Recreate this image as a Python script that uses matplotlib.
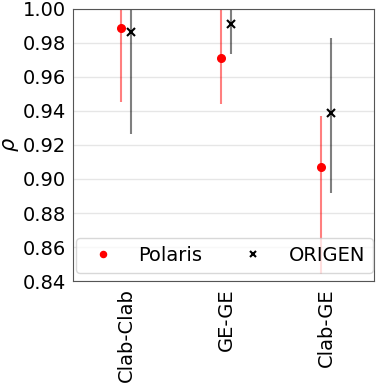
import numpy as np
import matplotlib
matplotlib.use('Agg')
import matplotlib.pyplot as plt

# data
cases = ['Clab-Clab', 'GE-GE', 'Clab-GE']
polaris = [0.989, 0.971, 0.907]
polaris_lo = [0.044, 0.027, 0.063]
polaris_hi = [0.044, 0.030, 0.030]
origen = [0.9865, 0.991, 0.939]
origen_lo = [0.060, 0.0175, 0.047]
origen_hi = [0.060, 0.0175, 0.044]

x = np.arange(len(cases))

fig = plt.figure(figsize=(3.81, 3.84), dpi=100)
ax = fig.add_axes([0.192, 0.268, 0.79, 0.709])

ax.errorbar(x - 0.05, polaris, yerr=[polaris_lo, polaris_hi], fmt='o', color='red',
            ecolor=(1, 0, 0, 0.5), elinewidth=1.5, markersize=5.5, label='Polaris')
ax.errorbar(x + 0.05, origen, yerr=[origen_lo, origen_hi], fmt='x', color='black',
            ecolor=(0, 0, 0, 0.5), elinewidth=1.5, markersize=6, mew=1.5, label='ORIGEN')

ax.set_xlim(-0.53, 2.48)
ax.set_ylim(0.84, 1.0)
ax.set_yticks(np.arange(0.84, 1.001, 0.02))
ax.set_xticks(x)
ax.set_xticklabels(cases, rotation=90, fontsize=14)
ax.tick_params(axis='y', labelsize=14)
ax.tick_params(length=0, pad=5)
ax.yaxis.set_major_formatter(matplotlib.ticker.FormatStrFormatter('%.2f'))
ax.grid(axis='y', color='#e6e6e6', lw=1)
ax.set_axisbelow(True)
for s in ax.spines.values():
    s.set_color('#555555')
ax.set_ylabel(r'$\rho$', fontsize=15, va='center')
ax.yaxis.set_label_coords(-0.205, 0.5)

handles, labels = ax.get_legend_handles_labels()
handles = [h[0] for h in handles]
ax.legend(handles, labels, ncol=2, loc='lower left', mode='expand',
          bbox_to_anchor=(0.01, 0.03, 0.985, 0.2), fontsize=14, framealpha=0.75,
          markerscale=0.8, borderaxespad=0)

fig.savefig('out.png', dpi=100)
